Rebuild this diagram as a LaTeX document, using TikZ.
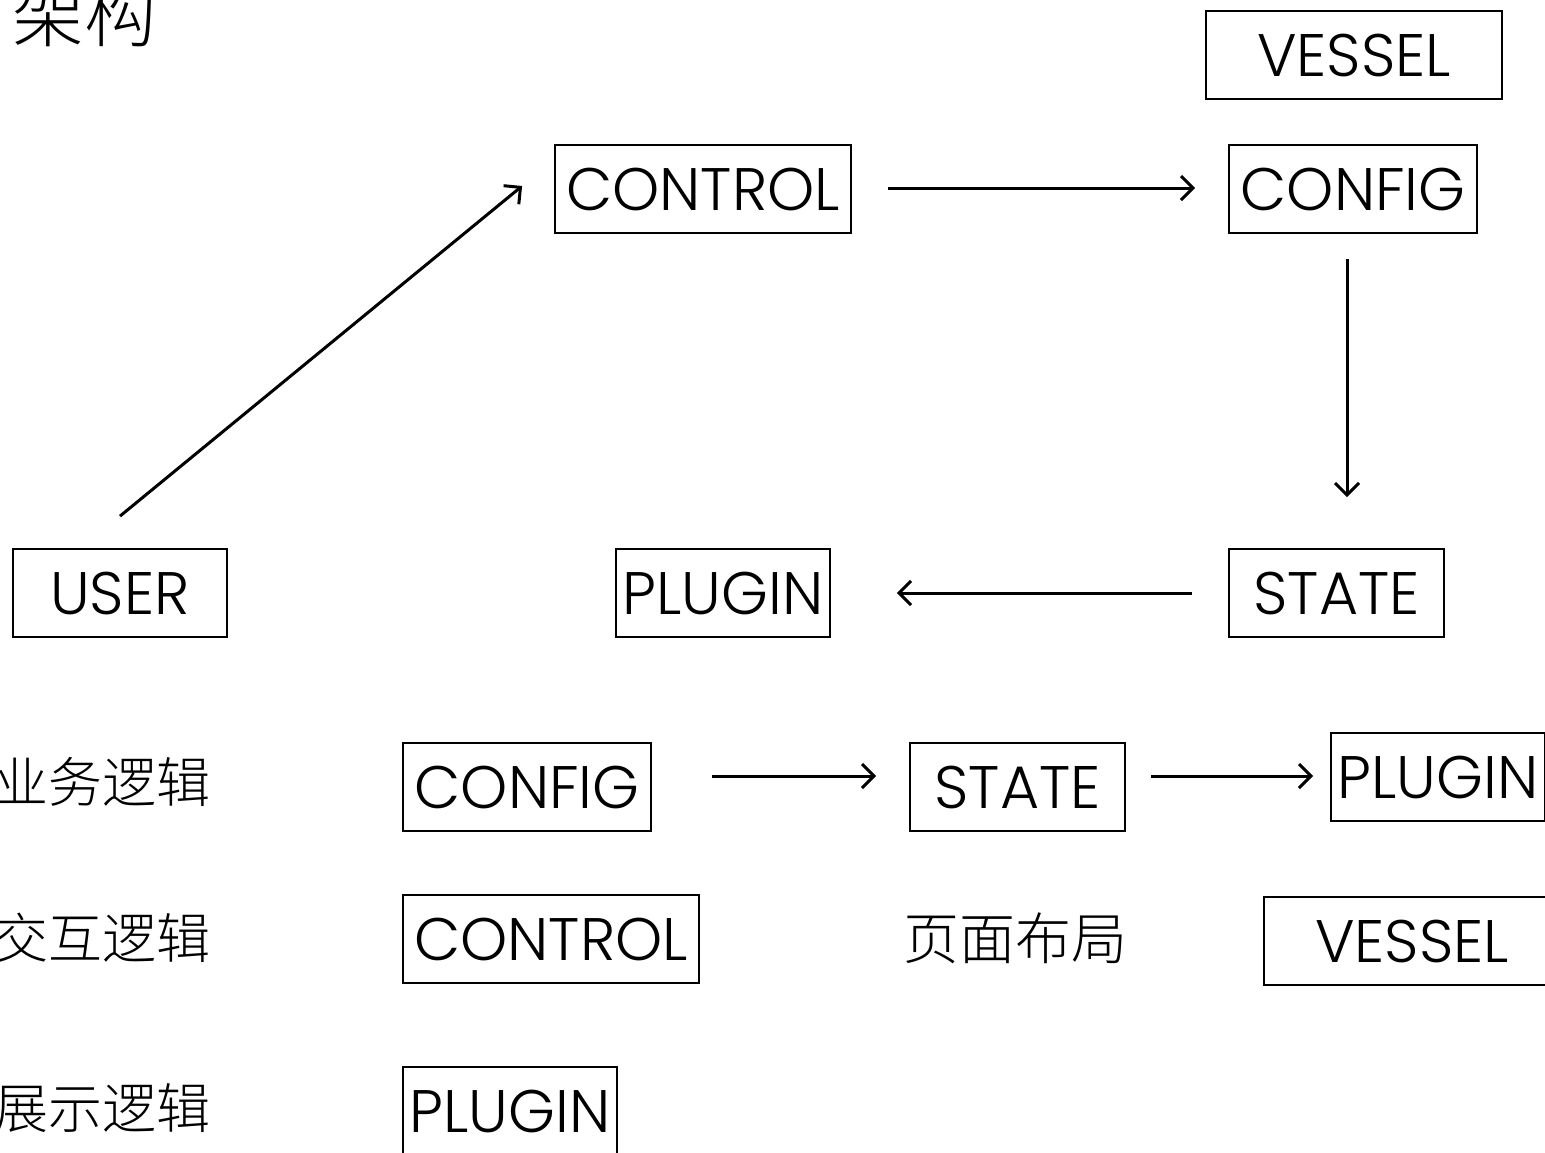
\documentclass[tikz,border=0pt]{standalone}
\usepackage{fontspec}
\setmainfont{Poppins Light}
\newfontfamily\cjk{Noto Sans CJK SC Light}
\usetikzlibrary{arrows.meta,calc}
\begin{document}
\begin{tikzpicture}[x=0.5pt,y=-0.5pt,
  box/.style={draw,line width=0.9pt,minimum height=44pt,inner sep=0pt,font=\fontsize{30}{30}\selectfont},
  lbl/.style={inner sep=0pt,font=\cjk\fontsize{27}{27}\selectfont},
  arr/.style={line width=1.5pt,-{Straight Barb[length=6pt,width=12pt,line width=1.5pt]}}]
\useasboundingbox (0,0) rectangle (1545,1152);
\clip (0,0) rectangle (1545,1152);
% top part
\node[inner sep=0pt,font=\cjk\fontsize{36}{36}\selectfont] (title) at (84,14) {架构};
\node[box,minimum width=148pt] (vessel1) at (1354,55) {VESSEL};
\node[box,minimum width=148pt] (control1) at (703,189) {CONTROL};
\node[box,minimum width=124pt] (config1) at (1353,189) {CONFIG};
\node[box,minimum width=107pt] (user) at (120,593) {USER};
\node[box,minimum width=107pt] (plugin1) at (723,593) {PLUGIN};
\node[box,minimum width=107.5pt] (state1) at (1336.5,593) {STATE};
\draw[arr] ([yshift=16pt]user.north) -- ([xshift=-16pt,yshift=1.5pt]control1.west);
\draw[arr] ([xshift=18pt,yshift=0.5pt]control1.east) -- ([xshift=-16.5pt,yshift=0.5pt]config1.west);
\draw[arr] ([xshift=-3pt,yshift=-12.5pt]config1.south) -- ([xshift=-3pt,yshift=25.5pt]state1.north -| config1.south);
\draw[arr] ([xshift=-18pt]state1.west) -- ([xshift=33pt]plugin1.east);
% bottom part
\node[lbl,anchor=east] (biz) at (211,782) {业务逻辑};
\node[lbl,anchor=east] (inter) at (211,938) {交互逻辑};
\node[lbl,anchor=east] (show) at (211,1108) {展示逻辑};
\node[box,minimum width=124pt] (config2) at (527,787) {CONFIG};
\node[box,minimum width=107.5pt] (state2) at (1017.5,787) {STATE};
\node[box,minimum width=107pt] (plugin2) at (1438,777) {PLUGIN};
\node[box,minimum width=148pt] (control2) at (551,939) {CONTROL};
\node[lbl,font=\cjk\fontsize{28}{28}\selectfont] (layout) at (1015,938) {页面布局};
\node[box,minimum width=148pt] (vessel2) at (1412,941) {VESSEL};
\node[box,minimum width=107pt] (plugin3) at (510,1111) {PLUGIN};
\draw[arr] ([xshift=30pt,yshift=5.5pt]config2.east) -- ([xshift=-16.5pt,yshift=5.5pt]state2.west);
\draw[arr] ([xshift=12.5pt,yshift=5.5pt]state2.east) -- ([xshift=-8.5pt,yshift=0.5pt]plugin2.west);
\end{tikzpicture}
\end{document}
